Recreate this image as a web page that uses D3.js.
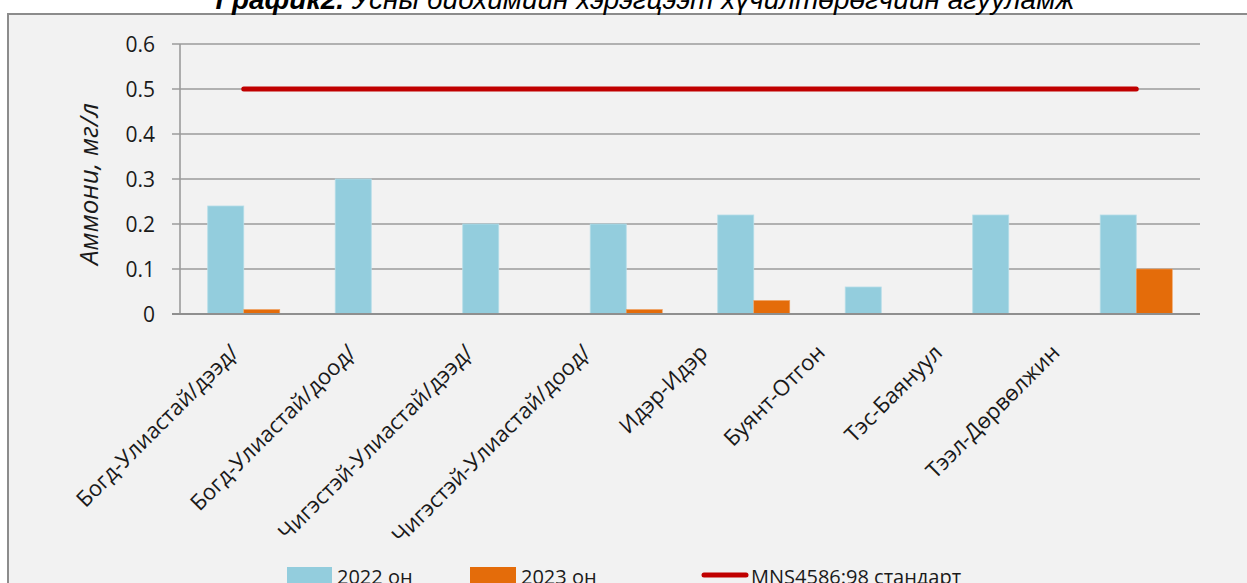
<!DOCTYPE html>
<html>
<head>
<meta charset="utf-8">
<script src="https://cdn.jsdelivr.net/npm/d3@7"></script>
<style>
  html, body { margin: 0; padding: 0; background: #ffffff; }
  svg { display: block; }
</style>
</head>
<body>
<svg id="chart" width="1247" height="583"></svg>
<script>
// ---- data ----
const categories = [
  "Богд-Улиастай/дээд/",
  "Богд-Улиастай/доод/",
  "Чигэстэй-Улиастай/дээд/",
  "Чигэстэй-Улиастай/доод/",
  "Идэр-Идэр",
  "Буянт-Отгон",
  "Тэс-Баянуул",
  "Тээл-Дөрвөлжин"
];
const values2022 = [0.24, 0.30, 0.20, 0.20, 0.22, 0.06, 0.22, 0.22];
const values2023 = [0.01, 0, 0, 0.01, 0.03, 0, 0, 0.10];
const standard = [0.5, 0.5, 0.5, 0.5, 0.5, 0.5, 0.5, 0.5];
const yTicks = [0, 0.1, 0.2, 0.3, 0.4, 0.5, 0.6];
const seriesNames = ["2022 он", "2023 он", "MNS4586:98 стандарт"];
const titleBold = "График2.";
const titleRest = " Усны биохимийн хэрэгцээт хүчилтөрөгчийн агууламж";
const yTitle = "Аммони, мг/л";

// ---- layout ----
const svg = d3.select("#chart");
const font = "'Open Sans', 'Noto Sans', sans-serif";
const plot = { left: 180, right: 1200, top: 44, bottom: 314 };
const colors = { c2022: "#93cddd", c2023: "#e46c0a", std: "#c00000" };

// chart frame
svg.append("rect")
  .attr("x", 8).attr("y", 14)
  .attr("width", 1260).attr("height", 600)
  .attr("fill", "#f2f2f2")
  .attr("stroke", "#8c8c8c").attr("stroke-width", 2);

// title (cut at top, as in the reference)
const title = svg.append("text")
  .attr("x", 645).attr("y", 9)
  .attr("text-anchor", "middle")
  .attr("font-family", "'Liberation Sans', Arial, sans-serif")
  .attr("font-size", 28)
  .attr("font-style", "italic")
  .attr("fill", "#000");
title.append("tspan").attr("font-weight", "bold").text(titleBold);
title.append("tspan").text(titleRest);

// scales
const x = d3.scaleBand()
  .domain(categories)
  .range([plot.left, plot.right])
  .paddingInner(0.435)
  .paddingOuter(0.2175);
const xSub = d3.scaleBand()
  .domain(["2022", "2023"])
  .range([0, x.bandwidth()]);
const y = d3.scaleLinear().domain([0, 0.6]).range([plot.bottom, plot.top]);
const xCenter = c => x(c) + x.bandwidth() / 2;

// gridlines + y ticks
svg.append("g").selectAll("line")
  .data(yTicks)
  .join("line")
  .attr("x1", plot.left - 8).attr("x2", plot.right)
  .attr("y1", d => y(d)).attr("y2", d => y(d))
  .attr("stroke", "#9b9b9b").attr("stroke-width", 1.6);

svg.append("line")
  .attr("x1", plot.left).attr("x2", plot.left)
  .attr("y1", y(0.6)).attr("y2", y(0))
  .attr("stroke", "#9b9b9b").attr("stroke-width", 1.6);

svg.append("g").selectAll("text")
  .data(yTicks)
  .join("text")
  .attr("x", 155)
  .attr("y", d => y(d))
  .attr("dy", "0.36em")
  .attr("text-anchor", "end")
  .attr("font-family", font)
  .attr("font-size", 21)
  .attr("fill", "#1a1a1a")
  .text(d => d === 0 ? "0" : d3.format(".1f")(d));

// y title
svg.append("text")
  .attr("transform", `translate(98, ${(plot.top + plot.bottom) / 2 + 5}) rotate(-90)`)
  .attr("text-anchor", "middle")
  .attr("font-family", font)
  .attr("font-size", 26)
  .attr("font-style", "italic")
  .attr("fill", "#1a1a1a")
  .text(yTitle);

// bars
const bars = svg.append("g");
bars.selectAll("rect.b22")
  .data(categories)
  .join("rect")
  .attr("class", "b22")
  .attr("x", c => x(c) + xSub("2022"))
  .attr("width", xSub.bandwidth())
  .attr("y", (c, i) => y(values2022[i]))
  .attr("height", (c, i) => y(0) - y(values2022[i]))
  .attr("fill", colors.c2022)
  .attr("stroke", "#b5dde8").attr("stroke-width", 0.8);
bars.selectAll("rect.b23")
  .data(categories)
  .join("rect")
  .attr("class", "b23")
  .attr("x", c => x(c) + xSub("2023"))
  .attr("width", xSub.bandwidth())
  .attr("y", (c, i) => y(values2023[i]))
  .attr("height", (c, i) => y(0) - y(values2023[i]))
  .attr("fill", colors.c2023)
  .attr("stroke", "#f0a060").attr("stroke-width", 0.6);

// x axis baseline
svg.append("line")
  .attr("x1", plot.left - 8).attr("x2", plot.right)
  .attr("y1", y(0)).attr("y2", y(0))
  .attr("stroke", "#8f8f8f").attr("stroke-width", 2);

// standard line
const line = d3.line()
  .x((d, i) => xCenter(categories[i]))
  .y(d => y(d));
svg.append("path")
  .datum(standard)
  .attr("d", line)
  .attr("fill", "none")
  .attr("stroke", colors.std)
  .attr("stroke-width", 5)
  .attr("stroke-linecap", "round");

// x labels (Excel-style compressed placement of rotated labels)
const xLab = d3.scalePoint().domain(categories).range([240, 1061]);
svg.append("g").selectAll("text")
  .data(categories)
  .join("text")
  .attr("transform", c => `translate(${xLab(c)}, 354) rotate(-45)`)
  .attr("text-anchor", "end")
  .attr("font-family", font)
  .attr("font-size", 22)
  .attr("fill", "#1a1a1a")
  .text(c => c);

// legend
const lg = svg.append("g");
const lgFont = 20;
lg.append("rect").attr("x", 287).attr("y", 567).attr("width", 45).attr("height", 18).attr("fill", colors.c2022);
lg.append("text").attr("x", 337).attr("y", 584).attr("font-family", font).attr("font-size", lgFont).attr("fill", "#1a1a1a").text(seriesNames[0]);
lg.append("rect").attr("x", 470).attr("y", 567).attr("width", 46).attr("height", 18).attr("fill", colors.c2023);
lg.append("text").attr("x", 521).attr("y", 584).attr("font-family", font).attr("font-size", lgFont).attr("fill", "#1a1a1a").text(seriesNames[1]);
lg.append("line").attr("x1", 704).attr("x2", 746).attr("y1", 575).attr("y2", 575)
  .attr("stroke", colors.std).attr("stroke-width", 5).attr("stroke-linecap", "round");
lg.append("text").attr("x", 751).attr("y", 584).attr("font-family", font).attr("font-size", lgFont).attr("fill", "#1a1a1a").text(seriesNames[2]);
</script>
</body>
</html>
